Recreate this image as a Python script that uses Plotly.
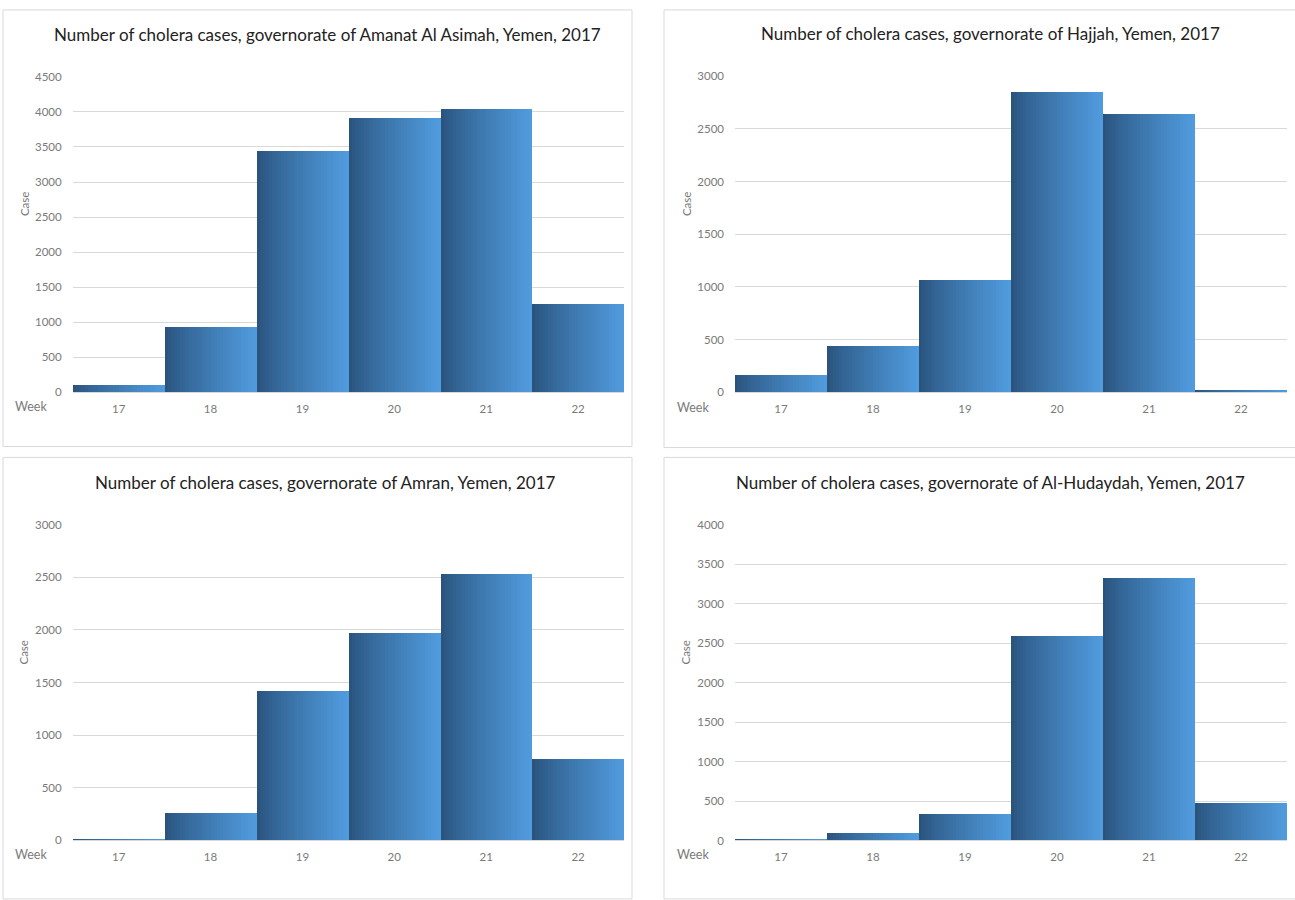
import plotly.graph_objects as go

weeks = ["17", "18", "19", "20", "21", "22"]

titles = [
    "Number of cholera cases, governorate of Amanat Al Asimah, Yemen, 2017",
    "Number of cholera cases, governorate of Hajjah, Yemen, 2017",
    "Number of cholera cases, governorate of Amran, Yemen, 2017",
    "Number of cholera cases, governorate of Al-Hudaydah, Yemen, 2017",
]

amanat_al_asimah = [95, 935, 3450, 3910, 4040, 1265]
hajjah = [160, 433, 1063, 2844, 2635, 15]
amran = [15, 262, 1422, 1969, 2537, 778]
al_hudaydah = [25, 104, 337, 2589, 3334, 483]

y_max = [4500, 3000, 3000, 4000]

series = [amanat_al_asimah, hajjah, amran, al_hudaydah]

W, H = 1295, 900

# panel layout in pixels: (plot_left, plot_right, plot_top, plot_bottom)
plots_px = [
    (72.7, 624, 71, 390.7),
    (735, 1287, 70.3, 391),
    (72.7, 624, 525.3, 845.5),
    (735, 1287, 525.3, 845.7),
]
borders_px = [
    (3, 3, 632, 446),
    (664, 3, 1300, 447),
    (3, 457, 632, 905),
    (664, 457, 1300, 905),
]
title_pos = [(327, 28), (990, 27), (326, 482), (990, 482)]
case_pos = [(24, 200), (686, 200), (24, 655), (686, 655)]
week_pos = [(31, 405), (693, 406), (31, 860), (693, 860)]

def px_x(x):
    return x / W

def px_y(y):
    return 1 - y / H

dark = (42, 84, 126)
light = (80, 155, 222)
N = 30

fig = go.Figure()
font_family = "Lato, 'Open Sans', sans-serif"

for k in range(4):
    xa = "x" if k == 0 else f"x{k+1}"
    ya = "y" if k == 0 else f"y{k+1}"
    for i in range(N):
        t = (i / (N - 1)) ** 0.85
        c = tuple(round(dark[j] + (light[j] - dark[j]) * t) for j in range(3))
        fig.add_trace(go.Bar(
            x=weeks, y=series[k],
            xaxis=xa, yaxis=ya,
            offset=-0.5 + i / N,
            width=(N - i) / N,
            marker=dict(color=f"rgb{c}", line=dict(width=0)),
            showlegend=False,
            hoverinfo="skip" if i < N - 1 else None,
        ))

    l, r, t_, b = plots_px[k]
    xkey = "xaxis" if k == 0 else f"xaxis{k+1}"
    ykey = "yaxis" if k == 0 else f"yaxis{k+1}"
    fig.update_layout(**{
        xkey: dict(
            domain=[px_x(l), px_x(r)],
            anchor=ya,
            type="category",
            range=[-0.5, 5.5],
            showgrid=False,
            showline=True, linecolor="#d9d9d9", linewidth=1,
            ticks="",
            ticklabelstandoff=6,
            tickfont=dict(family=font_family, size=11.5, color="#7a7a7a"),
            fixedrange=True,
        ),
        ykey: dict(
            domain=[px_y(b), px_y(t_)],
            anchor=xa,
            range=[0, y_max[k]],
            dtick=500,
            showgrid=True, gridcolor="#d9d9d9", gridwidth=1,
            zeroline=False,
            showline=False,
            ticks="",
            ticklabelstandoff=10,
            tickfont=dict(family=font_family, size=11.5, color="#7a7a7a"),
            fixedrange=True,
        ),
    })

    bx0, by0, bx1, by1 = borders_px[k]
    fig.add_shape(type="rect", xref="paper", yref="paper",
                  x0=px_x(bx0), x1=px_x(bx1), y0=px_y(by0), y1=px_y(by1),
                  line=dict(color="#d9d9d9", width=1), layer="below")

    tx, ty = title_pos[k]
    fig.add_annotation(text=titles[k], xref="paper", yref="paper",
                       x=px_x(tx), y=px_y(ty), xanchor="center", yanchor="middle",
                       showarrow=False,
                       font=dict(family=font_family, size=17, color="#222222"))
    cx, cy = case_pos[k]
    fig.add_annotation(text="Case", xref="paper", yref="paper",
                       x=px_x(cx), y=px_y(cy), xanchor="center", yanchor="middle",
                       textangle=-90, showarrow=False,
                       font=dict(family=font_family, size=11.5, color="#7a7a7a"))
    wx, wy = week_pos[k]
    fig.add_annotation(text="Week", xref="paper", yref="paper",
                       x=px_x(wx), y=px_y(wy), xanchor="center", yanchor="middle",
                       showarrow=False,
                       font=dict(family=font_family, size=12.5, color="#7a7a7a"))

fig.update_layout(
    width=W, height=H,
    margin=dict(l=0, r=0, t=0, b=0),
    paper_bgcolor="white",
    plot_bgcolor="white",
    barmode="overlay",
    bargap=0,
    showlegend=False,
)

fig.write_html("out.html")
